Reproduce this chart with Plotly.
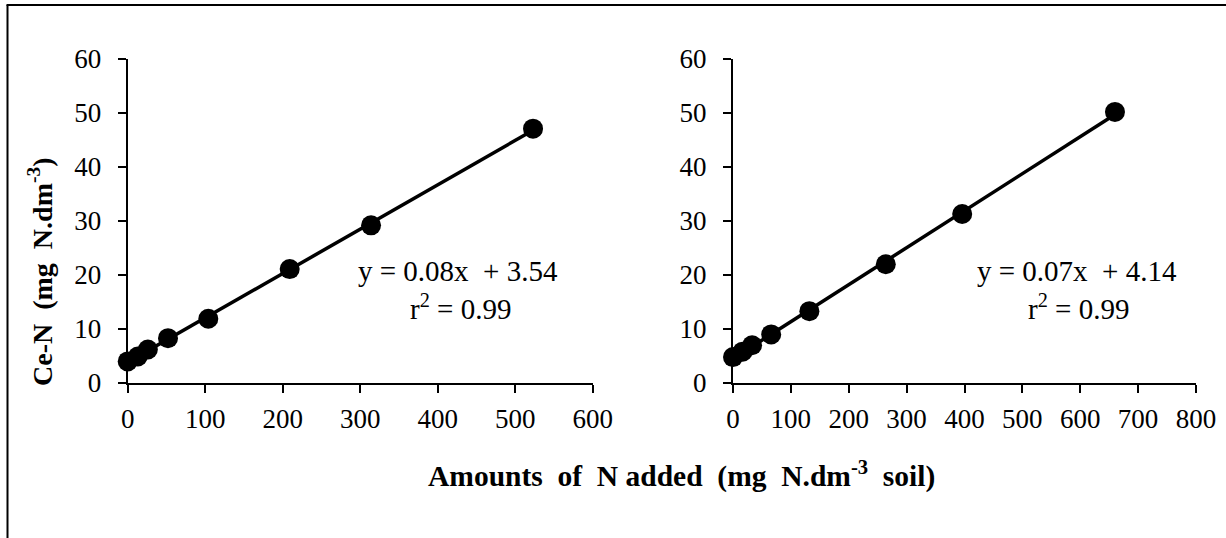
import numpy as np
import plotly.graph_objects as go

# ---- data ----
x_left = [0, 13, 26, 52, 104, 209, 314, 523]
y_left = [4.0, 4.9, 6.2, 8.3, 11.9, 21.1, 29.2, 47.1]
x_right = [0, 16.5, 33, 66, 132, 264, 396, 660]
y_right = [4.8, 5.8, 7.0, 9.0, 13.3, 22.0, 31.3, 50.2]

left_xticks = [0, 100, 200, 300, 400, 500, 600]
right_xticks = [0, 100, 200, 300, 400, 500, 600, 700, 800]
yticks = [0, 10, 20, 30, 40, 50, 60]

eq_left = ["y = 0.08x  + 3.54", "r<sup>2</sup> = 0.99"]
eq_right = ["y = 0.07x  + 4.14", "r<sup>2</sup> = 0.99"]
y_title = "Ce-N  (mg  N.dm<sup>-3</sup>)"
x_title = "Amounts  of  N added  (mg  N.dm<sup>-3</sup>  soil)"

W, H = 1226, 538
FONT = "Liberation Serif, Times New Roman, serif"


def px_x(p):
    return p / W


def px_y(p):
    return (H - p) / H


fig = go.Figure()


def add_panel(xs, ys, xa, ya):
    slope, icpt = np.polyfit(xs, ys, 1)
    xl = [min(xs), max(xs)]
    yl = [slope * v + icpt for v in xl]
    fig.add_trace(go.Scatter(x=xl, y=yl, mode="lines", xaxis=xa, yaxis=ya,
                             line=dict(color="black", width=3.5),
                             showlegend=False, hoverinfo="skip", cliponaxis=False))
    fig.add_trace(go.Scatter(x=xs, y=ys, mode="markers", xaxis=xa, yaxis=ya,
                             marker=dict(color="black", size=20),
                             showlegend=False, cliponaxis=False))


add_panel(x_left, y_left, "x", "y")
add_panel(x_right, y_right, "x2", "y2")

ydom = [px_y(383), px_y(59)]
axis_common = dict(showline=True, linecolor="black", linewidth=2,
                   ticks="outside", ticklen=8, tickwidth=2, tickcolor="black",
                   showgrid=False, zeroline=False, automargin=False,
                   tickfont=dict(family=FONT, size=27, color="black"))

fig.update_layout(
    width=W, height=H,
    margin=dict(l=0, r=0, t=0, b=0),
    paper_bgcolor="white", plot_bgcolor="white",
    xaxis=dict(domain=[px_x(127.7), px_x(592.7)], range=[0, 600],
               tickvals=left_xticks, anchor="y", ticklabelstandoff=3, **axis_common),
    yaxis=dict(domain=ydom, range=[0, 60], tickvals=yticks, anchor="x",
               ticklabelstandoff=11, **axis_common),
    xaxis2=dict(domain=[px_x(733), px_x(1196)], range=[0, 800],
                tickvals=right_xticks, anchor="y2", ticklabelstandoff=3, **axis_common),
    yaxis2=dict(domain=ydom, range=[0, 60], tickvals=yticks, anchor="x2",
                ticklabelstandoff=11, **axis_common),
)

ann_font = dict(family=FONT, size=29, color="black")
title_font = dict(family=FONT, size=28, color="black")
xtitle_font = dict(family=FONT, size=29.5, color="black")
annotations = [
    dict(text=eq_left[0], x=px_x(458), y=px_y(271)),
    dict(text=eq_left[1], x=px_x(460), y=px_y(307)),
    dict(text=eq_right[0], x=px_x(1077), y=px_y(271)),
    dict(text=eq_right[1], x=px_x(1078), y=px_y(307)),
]
for a in annotations:
    a.update(xref="paper", yref="paper", showarrow=False, font=ann_font,
             xanchor="center", yanchor="middle")
annotations.append(dict(text="<b>" + y_title + "</b>", x=px_x(40), y=px_y(272),
                        xref="paper", yref="paper", showarrow=False, textangle=-90,
                        font=title_font, xanchor="center", yanchor="middle"))
annotations.append(dict(text="<b>" + x_title + "</b>", x=px_x(681), y=px_y(474),
                        xref="paper", yref="paper", showarrow=False,
                        font=xtitle_font, xanchor="center", yanchor="middle"))
fig.update_layout(annotations=annotations)

# outer frame (left and top edges)
fig.add_shape(type="line", xref="paper", yref="paper",
              x0=px_x(7.5), x1=px_x(7.5), y0=px_y(5), y1=px_y(540),
              line=dict(color="black", width=2))
fig.add_shape(type="line", xref="paper", yref="paper",
              x0=px_x(6.5), x1=px_x(1228), y0=px_y(5), y1=px_y(5),
              line=dict(color="black", width=2))

fig.write_html("out.html", config={"displayModeBar": False},
               post_script="document.body.style.margin='0';document.body.style.overflow='hidden';")
